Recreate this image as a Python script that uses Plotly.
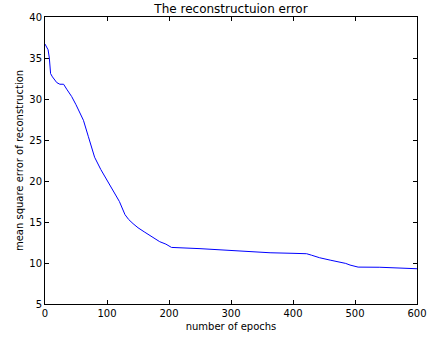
import plotly.graph_objects as go

epochs = [0, 3, 5, 7, 9, 12, 15, 19, 24, 30, 35, 43, 50, 56, 62, 70, 80, 90, 100, 110, 120, 129, 135, 142, 150, 160, 169, 177, 185, 195, 204,
          250, 300, 330, 363, 400, 422, 430, 443, 460, 475, 485, 492, 500, 505, 540, 600]
errors = [36.7, 36.2, 36.0, 35.0, 33.1, 32.7, 32.4, 32.0, 31.8, 31.8, 31.2, 30.3, 29.3, 28.4, 27.4, 25.4, 22.9, 21.4, 20.1, 18.7, 17.5, 15.9, 15.3, 14.8, 14.3, 13.8, 13.4, 13.0, 12.6, 12.3, 11.9,
          11.75, 11.55, 11.35, 11.25, 11.18, 11.13, 10.95, 10.64, 10.35, 10.15, 9.95, 9.75, 9.65, 9.5, 9.48, 9.3]

x_ticks = [0, 100, 200, 300, 400, 500, 600]
y_ticks = [5, 10, 15, 20, 25, 30, 35, 40]

font = "DejaVu Sans"

fig = go.Figure()
fig.add_trace(go.Scatter(x=epochs, y=errors, mode="lines",
                         line=dict(color="#0000ff", width=1)))

axis_common = dict(showline=True, linecolor="black", linewidth=1, mirror="ticks",
                   ticks="inside", ticklen=4, tickcolor="black", tickwidth=1,
                   showgrid=False, zeroline=False, automargin=False,
                   tickfont=dict(family=font, size=10, color="black"))

fig.update_xaxes(range=[0, 600], tickvals=x_ticks,
                 title=dict(text="number of epochs", font=dict(family=font, size=10, color="black"), standoff=4),
                 **axis_common)
fig.update_yaxes(range=[5, 40], tickvals=y_ticks,
                 title=dict(text="mean square error of reconstruction", font=dict(family=font, size=10, color="black"), standoff=3),
                 **axis_common)

fig.update_layout(
    width=428, height=339,
    margin=dict(l=45, r=11, t=17, b=35),
    paper_bgcolor="white", plot_bgcolor="white",
    showlegend=False,
    title=dict(text="The reconstructuion error", x=0.5, xanchor="center",
               xref="paper", y=1 - 8.5 / 339, yref="container", yanchor="middle", pad=dict(t=0, b=0),
               font=dict(family=font, size=12, color="black")),
)

fig.write_html("out.html", config={"displayModeBar": False},
               post_script="document.body.style.margin='0px';document.body.style.overflow='hidden';")
